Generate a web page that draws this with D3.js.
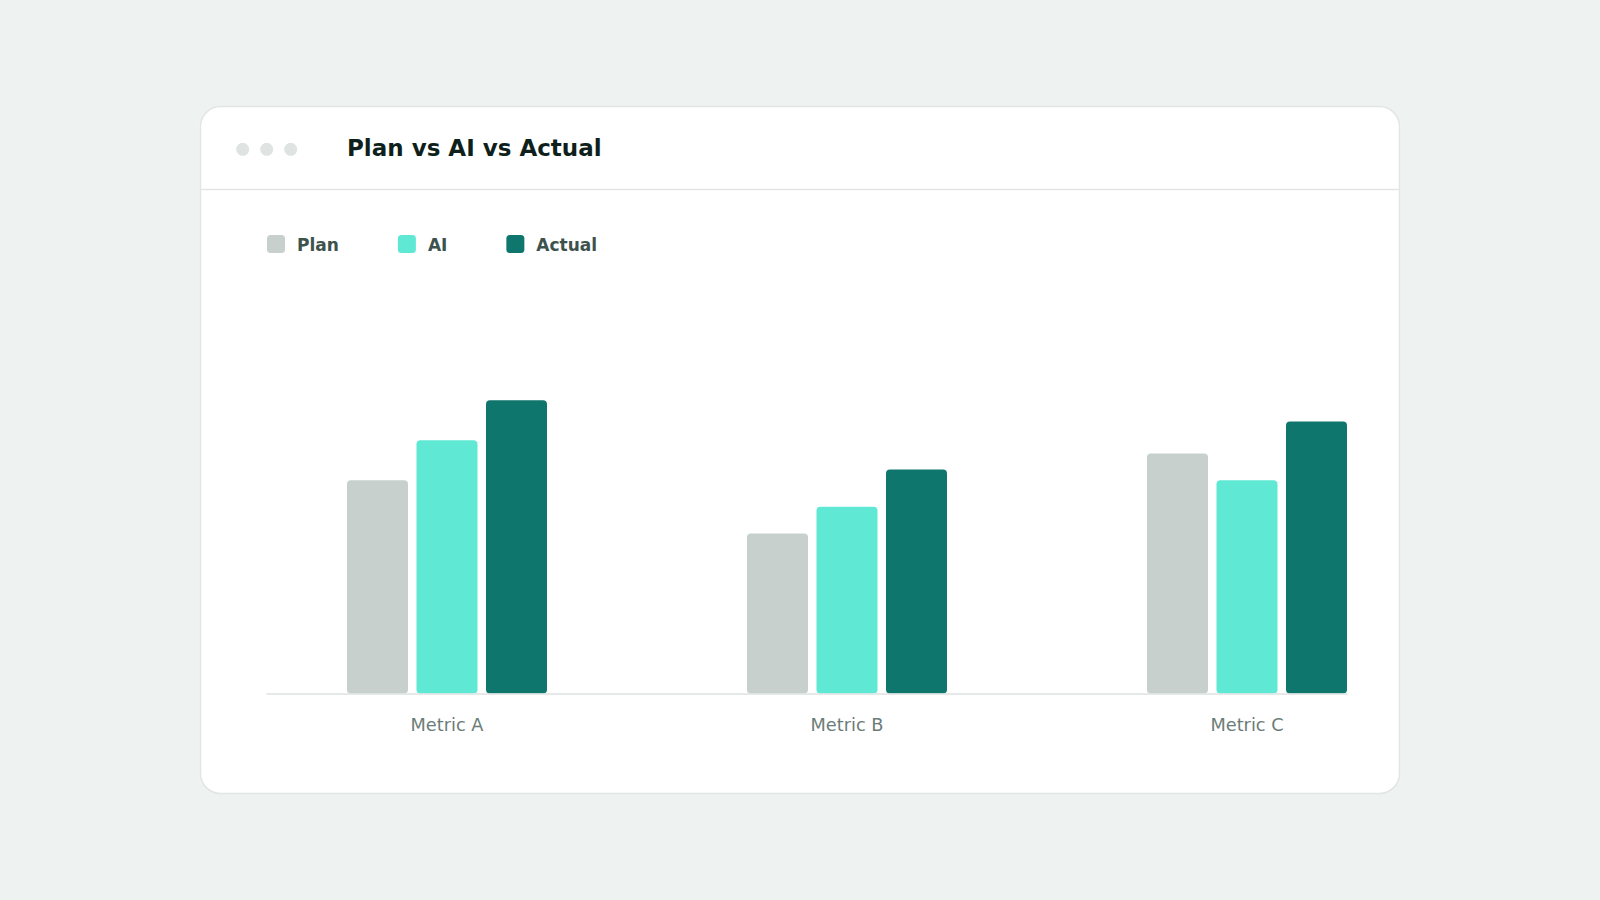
<!DOCTYPE html>
<html>
<head>
<meta charset="utf-8">
<script src="https://cdn.jsdelivr.net/npm/d3@7"></script>
<style>
  html, body { margin: 0; padding: 0; background: #eef2f1; }
  svg { display: block; font-family: 'DejaVu Sans', sans-serif; }
</style>
</head>
<body>
<div id="chart"></div>
<script>
const categories = ['Metric A', 'Metric B', 'Metric C']
const seriesNames = ['Plan', 'AI', 'Actual']
const planValues = [80, 60, 90]
const aiValues = [95, 70, 80]
const actualValues = [110, 84, 102]
const colors = ['#c7d0cc', '#5fe9d4', '#0f766e']

const W = 1600
const H = 900
const card = { x: 200, y: 106, w: 1200, h: 688, r: 20 }
const plot = { left: 266, right: 1347, bottom: 693.5, top: 373.5 }

const seriesValues = [planValues, aiValues, actualValues]
const data = categories.map((c, i) => ({
  category: c,
  values: seriesNames.map((s, j) => ({ key: s, value: seriesValues[j][i] }))
}))

const svg = d3.select('#chart').append('svg')
  .attr('width', W)
  .attr('height', H)

svg.append('rect')
  .attr('width', W).attr('height', H)
  .attr('fill', '#eef2f1')

// card
svg.append('rect')
  .attr('x', card.x + 0.5).attr('y', card.y + 0.5)
  .attr('width', card.w - 1).attr('height', card.h - 1)
  .attr('rx', card.r)
  .attr('fill', '#fff')
  .attr('stroke', '#e1e6e4')
  .attr('stroke-width', 1.5)

svg.append('line')
  .attr('x1', card.x + 1).attr('x2', card.x + card.w - 1)
  .attr('y1', 189.5).attr('y2', 189.5)
  .attr('stroke', '#e1e6e4')
  .attr('stroke-width', 1.5)

// window dots
svg.selectAll('.dot').data([0, 1, 2]).enter()
  .append('circle')
  .attr('class', 'dot')
  .attr('cx', d => 242.7 + d * 24)
  .attr('cy', 149.3)
  .attr('r', 6.5)
  .attr('fill', '#dfe3e2')

svg.append('text')
  .attr('x', 347)
  .attr('y', 156)
  .attr('font-size', 23)
  .attr('font-weight', 'bold')
  .attr('fill', '#0f1f1c')
  .text('Plan vs AI vs Actual')

// legend
const legend = svg.append('g').attr('class', 'legend')
let lx = 267
seriesNames.forEach((s, i) => {
  const g = legend.append('g').attr('transform', 'translate(' + lx + ',235)')
  g.append('rect')
    .attr('width', 18).attr('height', 18)
    .attr('rx', 3.5)
    .attr('fill', colors[i])
  const t = g.append('text')
    .attr('x', 30)
    .attr('y', 16)
    .attr('font-size', 17)
    .attr('font-weight', 'bold')
    .attr('fill', '#3d524d')
    .text(s)
  lx += 30 + t.node().getComputedTextLength() + 59
})

// scales
const x = d3.scaleBand()
  .domain(categories)
  .range([plot.left, plot.right])
  .paddingInner(0.5)
  .paddingOuter(0.10125)
  .align(1)

const xSub = d3.scaleBand()
  .domain(seriesNames)
  .range([0, x.bandwidth()])
  .paddingInner(0.1223)

const y = d3.scaleLinear()
  .domain([0, 120])
  .range([plot.bottom, plot.top])

const color = d3.scaleOrdinal().domain(seriesNames).range(colors)

// bars
const groups = svg.append('g').attr('class', 'g-plot')
  .selectAll('.group').data(data).enter()
  .append('g')
  .attr('class', 'group')
  .attr('transform', d => 'translate(' + x(d.category) + ',0)')

groups.selectAll('.bar').data(d => d.values).enter()
  .append('rect')
  .attr('class', 'bar')
  .attr('x', d => xSub(d.key))
  .attr('y', d => y(d.value))
  .attr('width', xSub.bandwidth())
  .attr('height', d => y(0) - y(d.value))
  .attr('rx', 4)
  .attr('fill', d => color(d.key))

// x axis
const axisX = d3.axisBottom(x).tickSize(0).tickSizeOuter(0).tickPadding(25)
const gx = svg.append('g')
  .attr('class', 'axis axis--x')
  .attr('transform', 'translate(0,' + plot.bottom + ')')
  .call(axisX)
gx.select('.domain').attr('stroke', '#dde3e1').attr('stroke-width', 1.5)
gx.selectAll('.tick text')
  .attr('font-family', 'DejaVu Sans, sans-serif')
  .attr('font-size', 17.75)
  .attr('fill', '#6b7c78')
</script>
</body>
</html>
